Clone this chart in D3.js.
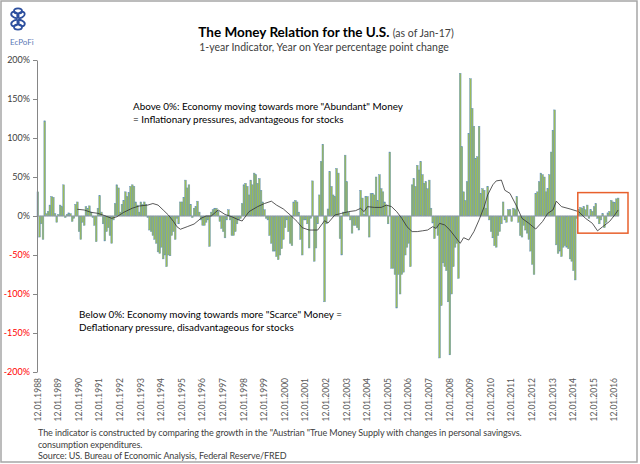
<!DOCTYPE html>
<html>
<head>
<meta charset="utf-8">
<script src="https://cdn.jsdelivr.net/npm/d3@7"></script>
<style>
  body { margin: 0; background: #fff; }
  svg { display: block; font-family: Lato, "Open Sans", sans-serif; }
</style>
</head>
<body>
<div id="chart"></div>
<script>
// 1-year indicator, monthly, first bar = Dec 1988 (percentage point change y/y)
var indicator = [
  31, -27, -10, -30, 122, 3, 6, 14, 25, 24,
  3, -8, 2, 14, 12, 40, -2, 2, 4, 3,
  -7, -3, 15, 18, -20, -30, -8, -12, 12, 10,
  13, 5, -2, -12, -33, 10, 26, 5, -10, -32,
  -20, -15, -25, -35, -5, 16, 40, 36, 5, 15,
  20, 31, 25, 30, 38, 40, 38, 18, 14, 5,
  18, 15, 18, 15, -2, -18, -20, -25, -30, -35,
  -46, -48, -40, -55, -50, -65, -50, -51, -25, -20,
  -30, -3, -10, 18, 18, 24, 46, 36, 40, 15,
  -2, 10, 12, 19, 5, -5, -12, -12, -8, -5,
  -39,
  5, 8, 10, 10, 6, -7, -16, -20, -28, -5,
  8, -5, -25, -25, -20, -10, -5, -3, 16, 40,
  42, 38, 27, 46, 40, 55, 53, 42, 48, 33,
  18, 8, -3, -5, -25, -35, -45, -45, -52, -56,
  -50, -42, -30, -15, -5, -20, -35, -38, 18, 20,
  18, 5, -30, -50, -5, -5, -10, -41, -3, 45,
  -58,
  -41, -10, 27, 70, 92, -110, -10, 9, 57, 38,
  27, 25, 61, 55, -29, -50, 5, 78, 44, 5,
  -5, -22, -12, -12, -15, -18, 33, 23, 2,
  25, 25, -27, 29, 29, 27, 50, 20, 53, 35,
  31, 18, 14, -10, 82, -67, -67, -75, -118, -75,
  -100, -75, -72, -50, -40, -35, -65, 40, 48, 38,
  65, 59, 70, 53, 42, 44, 35, 46, 10, -9,
  -29, -15, -25, -182, -115, -60, -65, -70, -110,
  -178, -100, -65, -40, -35, -80, 183,
  89, 31, 20, 44, 106, 176, 138, 115, 74, 76,
  115, 29, 35, 33, 10, 38, -5, -20, -28, -38,
  -40, -25, -20, -10, 18, -5, -8, 8, 8,
  -7, 10, 8, 25, -8, -25, -27, -12, -18, -22,
  -30, -45, -62, -75, 29, 31, 44, 55, 53, 50,
  31, 35, 53, 82, 110, 136, -37, -48, -45, -52,
  -40, -38, -40, -42, -55, -58, -70, -82, -3, 8,
  11, 10, 12, 8, 14, -3, 8, 6, 12, 16,
  -3, -10, -5, 3, -15, -8, 4, 6, 20, 18,
  17, 22, 23
];

// trend line, read at these month positions
var trendIdx = [23, 27, 31, 35, 39, 43, 46, 50, 55, 59, 64, 67, 70, 73, 76, 79, 81, 83, 87, 91,
  95, 98, 101, 105, 109, 113, 117, 119, 123, 128, 132, 136, 139, 143, 147, 151, 154, 158, 163, 167,
  169, 173, 177, 181, 185, 188, 190, 192, 196, 200, 203, 206, 209, 212, 215, 218, 221, 224, 227, 230,
  232, 234, 237, 240, 243, 246, 248, 251, 254, 257, 260, 262, 265, 267, 270, 272, 275, 279, 282, 286,
  290, 294, 297, 300, 302, 305, 310, 315, 319, 323, 326, 329, 333, 336, 338];
var trendVals = [8.6, 7.7, 4.7, 3.4, 0.4, -3, -1, 4.7, 10, 12.8, 14, 16, 14, 7.7, 1.3, -7, -13.7, -17, -13.7, -10.3,
  -3, 0, 0, 7.7, 2, -1, -5, -6.4, 5.6, 12, 16, 19, 14, 9, 1.3, -7, -15, -18, -18, -6,
  -9, 1.3, 3.4, 5.6, 6.8, 9.8, 5.6, 12, 11, 11, 14, 12, 5.6, -3, -13.7, -20, -20, -19, -18, -13.7,
  -16, -9.4, -11.5, -18, -26.5, -35, -27.8, -30.8, -20, -5, 12, 27, 40, 45, 46, 33, 29, 12, -3, -9.4,
  -16.7, -7, 3.4, 7.7, 19, 12, 9, 5.6, -3, -9.4, -19, -13.7, -7, 1.3, 7.7];

var yTicks = [200, 150, 100, 50, 0, -50, -100, -150, -200];
var tickLabels = ['12.01.1988', '12.01.1989', '12.01.1990', '12.01.1991', '12.01.1992', '12.01.1993',
  '12.01.1994', '12.01.1995', '12.01.1996', '12.01.1997', '12.01.1998', '12.01.1999', '12.01.2000',
  '12.01.2001', '12.01.2002', '12.01.2003', '12.01.2004', '12.01.2005', '12.01.2006', '12.01.2007',
  '12.01.2008', '12.01.2009', '12.01.2010', '12.01.2011', '12.01.2012', '12.01.2013', '12.01.2014',
  '12.01.2015', '12.01.2016'];
var labelStep = 12;

// recent period boxed in orange
var boxFrom = 315;
var boxTop = 30;
var boxBottom = -22;

var svg = d3.select('#chart').append('svg')
  .attr('width', 640)
  .attr('height', 464);

svg.append('rect')
  .attr('x', 1).attr('y', 1)
  .attr('width', 636).attr('height', 461)
  .attr('fill', '#fff')
  .attr('stroke', '#a6a6a6')
  .attr('stroke-width', 1.5);

var x = d3.scaleBand().domain(d3.range(indicator.length)).range([37, 619]).padding(0);
var y = d3.scaleLinear().domain([-200, 200]).range([372, 60]);

// logo
var logo = svg.append('g').attr('transform', 'translate(18,20)');
[[-3, -5, 30], [3, -5, -30], [-3, 3, -30], [3, 3, 30], [0, -9, 0], [0, 7, 0]].forEach(function(p) {
  logo.append('ellipse')
    .attr('cx', p[0]).attr('cy', p[1])
    .attr('rx', 4).attr('ry', 2.6)
    .attr('transform', 'rotate(' + p[2] + ',' + p[0] + ',' + p[1] + ')')
    .attr('fill', 'none')
    .attr('stroke', '#2d4f9e')
    .attr('stroke-width', 1.8);
});
svg.append('text')
  .attr('x', 10).attr('y', 45)
  .attr('font-size', 8)
  .attr('fill', '#5a78b5')
  .text('EcPoFi');

// titles
var title = svg.append('text')
  .attr('x', 326).attr('y', 37)
  .attr('text-anchor', 'middle')
  .attr('fill', '#000');
title.append('tspan').attr('font-size', 13.5).attr('font-weight', 'bold').text('The Money Relation for the U.S. ');
title.append('tspan').attr('font-size', 10.5).attr('fill', '#404040').text('(as of Jan-17)');

svg.append('text')
  .attr('x', 324).attr('y', 51)
  .attr('text-anchor', 'middle')
  .attr('font-size', 10.5)
  .attr('fill', '#404040')
  .text('1-year Indicator, Year on Year percentage point change');

// bars
svg.append('g').selectAll('.bar')
  .data(indicator)
  .enter().append('rect')
    .attr('class', 'bar')
    .attr('x', function(d, i) { return x(i); })
    .attr('y', function(d) { return y(Math.max(0, d)); })
    .attr('width', x.bandwidth())
    .attr('height', function(d) { return Math.abs(y(d) - y(0)); })
    .attr('fill', '#9bbb59')
    .attr('stroke', '#6390bd')
    .attr('stroke-width', 0.45);

// zero line
svg.append('line')
  .attr('x1', 37).attr('x2', 619)
  .attr('y1', y(0)).attr('y2', y(0))
  .attr('stroke', '#a0a0a0')
  .attr('stroke-width', 0.8);

// trend
var trend = trendIdx.map(function(d, k) { return { i: d, v: trendVals[k] }; });
svg.append('path')
  .datum(trend)
  .attr('fill', 'none')
  .attr('stroke', '#303030')
  .attr('stroke-width', 0.8)
  .attr('d', d3.line()
    .x(function(d) { return x(d.i) + x.bandwidth() / 2; })
    .y(function(d) { return y(d.v); }));

// y axis
var yAxis = svg.append('g')
  .attr('transform', 'translate(37,0)')
  .call(d3.axisLeft(y).tickValues(yTicks).tickSize(4).tickSizeOuter(0)
    .tickFormat(function(d) { return d + '%'; }));
yAxis.select('.domain').attr('stroke', '#868686');
yAxis.selectAll('line').attr('stroke', '#868686');
yAxis.selectAll('text')
  .attr('font-family', 'Lato, sans-serif')
  .attr('font-size', 9)
  .attr('x', -7)
  .attr('fill', function(d) { return d < 0 ? '#ff0000' : '#404040'; });

// x labels
var xAxis = svg.append('g')
  .attr('transform', 'translate(0,372)')
  .call(d3.axisBottom(x)
    .tickValues(tickLabels.map(function(t, k) { return k * labelStep; }))
    .tickSize(0)
    .tickFormat(function(d) { return tickLabels[d / labelStep]; }));
xAxis.select('.domain').remove();
xAxis.selectAll('text')
  .attr('font-family', 'Lato, sans-serif')
  .attr('font-size', 8.5)
  .attr('fill', '#595959')
  .attr('transform', 'rotate(-90)')
  .attr('x', -6)
  .attr('y', 0)
  .attr('dy', '0.32em')
  .attr('text-anchor', 'end');

// orange box
svg.append('rect')
  .attr('x', x(boxFrom))
  .attr('y', y(boxTop))
  .attr('width', x(indicator.length - 1) + x.bandwidth() + 9 - x(boxFrom))
  .attr('height', y(boxBottom) - y(boxTop))
  .attr('fill', 'none')
  .attr('stroke', '#e8602c')
  .attr('stroke-width', 1.5);

// notes
function lines(x0, y0, step, arr, size, color, spacing) {
  arr.forEach(function(t, k) {
    svg.append('text')
      .attr('x', x0).attr('y', y0 + k * step)
      .attr('font-size', size)
      .attr('letter-spacing', spacing)
      .attr('fill', color)
      .text(t);
  });
}
lines(133, 110, 13, ['Above 0%: Economy moving towards more "Abundant" Money',
  '= Inflationary pressures, advantageous for stocks'], 9.9, '#000', 0);
lines(79, 318, 13, ['Below 0%: Economy moving towards more "Scarce" Money =',
  'Deflationary pressure, disadvantageous for stocks'], 9.9, '#000', 0);
lines(38, 436, 11.5, ['The indicator is constructed by comparing the growth  in the  "Austrian "True Money Supply with changes in personal savingsvs.',
  'consumption expenditures.',
  'Source: US. Bureau of Economic Analysis, Federal Reserve/FRED'], 9, '#404040', -0.1);
</script>
</body>
</html>
